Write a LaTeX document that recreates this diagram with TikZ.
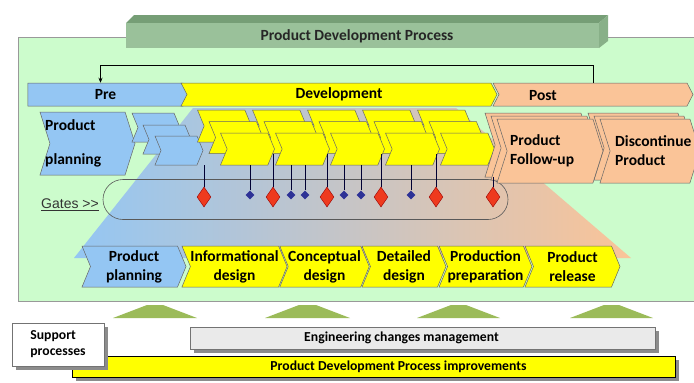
\documentclass[tikz,border=0pt]{standalone}
\usepackage{fontspec}
\setmainfont{Carlito}
\newfontfamily\gatesfont{Liberation Sans}
\usetikzlibrary{shapes.symbols,shapes.geometric,shadows,arrows.meta}

\definecolor{pdpblue}{RGB}{148,198,243}
\definecolor{pdpmid}{RGB}{200,194,212}
\definecolor{pdppeach}{RGB}{250,196,152}
\definecolor{pdpyellow}{RGB}{255,255,0}
\definecolor{pdpbg}{RGB}{204,252,204}
\definecolor{bannerfront}{RGB}{154,193,154}
\definecolor{bannertop}{RGB}{118,158,118}
\definecolor{bannerside}{RGB}{136,176,136}
\definecolor{gatered}{RGB}{238,58,30}
\definecolor{gateblue}{RGB}{45,50,150}
\definecolor{hillgreen}{RGB}{155,187,89}
\definecolor{ecmgray}{RGB}{234,234,234}

\begin{document}
\begin{tikzpicture}[x=1pt, y=-1pt,
  chev/.style={signal, signal from=west, signal to=east, signal pointer angle=135,
    draw=black!60, line width=0.5pt, inner sep=0pt,
    font=\bfseries\fontsize{15.5}{19}\selectfont, align=center},
  chevsize/.style 2 args={minimum width=#1, minimum height=#2},
  bluechev/.style={chev, fill=pdpblue},
  yellowchev/.style={chev, fill=pdpyellow},
  peachchev/.style={chev, fill=pdppeach},
  lbl/.style={font=\bfseries\fontsize{15.5}{19}\selectfont, inner sep=0pt, align=left},
  barlbl/.style={font=\bfseries\fontsize{13.7}{16}\selectfont, inner sep=0pt},
  reddia/.style={diamond, fill=gatered, draw=red!60!black, line width=0.4pt, inner sep=0pt, minimum width=14, minimum height=20},
  bluedia/.style={diamond, fill=gateblue, inner sep=0pt, minimum width=9, minimum height=9},
  gateline/.style={draw=black!80!blue, line width=0.6pt},
  hill/.style={fill=hillgreen},
  box/.style={draw=black!55, line width=0.6pt, inner sep=0pt,
    drop shadow={shadow xshift=4pt, shadow yshift=-4pt, fill=black!45, opacity=1}}
]
% Page size
\useasboundingbox (0,0) rectangle (694,383);

% Background and title banner
\draw[draw=black!40, fill=pdpbg] (18,37) rectangle (710,301);
\fill[bannertop] (126,23) -- (134,15) -- (608,15) -- (599,23) -- cycle;
\fill[bannerside] (599,23) -- (608,15) -- (608,41) -- (599,48) -- cycle;
\fill[bannerfront] (126,23) rectangle (599,48);
\node[font=\bfseries\fontsize{15.5}{19}\selectfont, text=black!85] (title) at (357,36) {Product Development Process};

% Gradient behind the activities
\shade[left color=pdpblue, middle color=pdpmid, right color=pdppeach] (193,108) -- (456,108) -- (631,258) -- (74,258) -- cycle;

% Gates lane
\node[draw=black!65, line width=0.6pt, rounded corners=20, minimum width=405, minimum height=40] (gates) at (305.5,199.5) {};
\node[font=\gatesfont\fontsize{14}{16}\selectfont, text=black!80, inner sep=0pt] (gateslbl) at (70,205) {\underline{Gates >{}>}};

% Phases
\node[chev, signal from=nowhere, fill=pdpblue, chevsize={161}{23}, signal pointer angle=125] (pre) at (105.5,94.5) {Pre};
\node[yellowchev, chevsize={316}{23}, signal pointer angle=125] (dev) at (339,94.5) {Development};
\node[peachchev, chevsize={200}{23}, signal pointer angle=125] (post) at (593,94.5) {};
\node[lbl] (postlbl) at (543,95.5) {Post};
\draw[-{Stealth[length=5pt,width=4pt]}, line width=0.6pt] (post.north) -- ++(0,-17) -| ([xshift=-5pt]pre.north);

% Pre phase activities
\node[bluechev, chevsize={95}{63}, signal pointer angle=145] (pplan) at (87.5,143.5) {};
\node[lbl, anchor=west] (pplanlbl) at (45,143.5) {Product\\[15pt]planning};
\node[bluechev, chevsize={48}{29}] (bb) at (156,127.5) {};
\node[bluechev, chevsize={48}{29}] (bm) at (167,139.5) {};
\node[bluechev, chevsize={48}{29}] (bf) at (179,150.5) {};

% Development activities, back row
\node[yellowchev, chevsize={54}{32}] (yb1) at (224.5,126) {};
\node[yellowchev, chevsize={54}{32}] (yb2) at (279.5,126) {};
\node[yellowchev, chevsize={54}{32}] (yb3) at (334.5,126) {};
\node[yellowchev, chevsize={54}{32}] (yb4) at (389.5,126) {};
\node[yellowchev, chevsize={54}{32}] (yb5) at (444.5,126) {};
% middle row
\node[yellowchev, chevsize={54}{32}] (ym1) at (236,137.5) {};
\node[yellowchev, chevsize={54}{32}] (ym2) at (291,137.5) {};
\node[yellowchev, chevsize={54}{32}] (ym3) at (346,137.5) {};
\node[yellowchev, chevsize={54}{32}] (ym4) at (401,137.5) {};
\node[yellowchev, chevsize={54}{32}] (ym5) at (456,137.5) {};
% front row
\node[yellowchev, chevsize={54}{32}] (yf1) at (247.5,149) {};
\node[yellowchev, chevsize={54}{32}] (yf2) at (302.5,149) {};
\node[yellowchev, chevsize={54}{32}] (yf3) at (357.5,149) {};
\node[yellowchev, chevsize={54}{32}] (yf4) at (412.5,149) {};
\node[yellowchev, chevsize={54}{32}] (yf5) at (467.5,149) {};

% Post phase activities
\node[peachchev, chevsize={106}{64}, signal pointer angle=145] (pb2) at (538,145) {};
\node[peachchev, chevsize={106}{64}, signal pointer angle=145] (pb1) at (544,148) {};
\node[peachchev, chevsize={100}{64}, signal pointer angle=145] (db2) at (638,145) {};
\node[peachchev, chevsize={100}{64}, signal pointer angle=145] (db1) at (644,148) {};
\node[peachchev, chevsize={106}{64}, signal pointer angle=145] (pf) at (550,151) {};
\node[lbl, anchor=west] (pflbl) at (510,151) {Product\\Follow-up};
\node[peachchev, chevsize={100}{64}, signal pointer angle=145] (df) at (650,151) {};
\node[lbl, anchor=west] (dflbl) at (615,151) {Discontinue\\Product};

% Gates
\node[reddia] (r1) at (204,197) {};
\node[bluedia] (b1) at (250,195) {};
\node[reddia] (r2) at (273,197) {};
\node[bluedia] (b2) at (291,195) {};
\node[bluedia] (b3) at (305,195) {};
\node[reddia] (r3) at (327,197) {};
\node[bluedia] (b4) at (344,195) {};
\node[bluedia] (b5) at (361,195) {};
\node[reddia] (r4) at (381,197) {};
\node[bluedia] (b6) at (411,195) {};
\node[reddia] (r5) at (436,197) {};
\node[reddia] (r6) at (493,197) {};
\draw[gateline] (r1.north) -- (r1.north |- bf.south);
\draw[gateline] (b1.north) -- (b1.north |- yf1.south);
\draw[gateline] (r2.north) -- (r2.north |- ym2.south);
\draw[gateline] (b2.north) -- (b2.north |- yf2.south);
\draw[gateline] (b3.north) -- (b3.north |- yf2.south);
\draw[gateline] (r3.north) -- (r3.north |- ym3.south);
\draw[gateline] (b4.north) -- (b4.north |- yf3.south);
\draw[gateline] (b5.north) -- (b5.north |- yf3.south);
\draw[gateline] (r4.north) -- (r4.north |- ym4.south);
\draw[gateline] (b6.north) -- (b6.north |- yf4.south);
\draw[gateline] (r5.north) -- (r5.north |- ym5.south);
\draw[gateline] (r6.north) -- (r6.north |- pb2.south);

% Stages
\node[bluechev, chevsize={104}{41}] (s1) at (134,266.5) {Product\\planning};
\node[yellowchev, chevsize={105}{41}] (s2) at (234.5,266.5) {Informational\\design};
\node[yellowchev, chevsize={83}{41}] (s3) at (324.5,266.5) {Conceptual\\design};
\node[yellowchev, chevsize={84}{41}] (s4) at (404,266.5) {Detailed\\design};
\node[yellowchev, chevsize={87}{41}] (s5) at (485.5,266.5) {Production\\preparation};
\node[yellowchev, chevsize={95}{41}] (s6) at (572.5,266.5) {Product\\release};

% Support
\fill[hill] (113,318) -- (147,305) -- (163,305) -- (197,318) -- cycle;
\fill[hill] (265,318) -- (299,305) -- (316,305) -- (350,318) -- cycle;
\fill[hill] (417,318) -- (451,305) -- (466,305) -- (500,318) -- cycle;
\fill[hill] (570,318) -- (604,305) -- (619,305) -- (653,318) -- cycle;
\node[box, fill=ecmgray, minimum width=465, minimum height=22] (ecm) at (422.5,338) {};
\node[barlbl] (ecmlbl) at (401.5,338) {Engineering changes management};
\node[box, draw=black, fill=pdpyellow, minimum width=603, minimum height=21] (imp) at (373.5,366.5) {};
\node[barlbl] (implbl) at (398.5,366.5) {Product Development Process improvements};
\node[box, fill=white, minimum width=92, minimum height=43] (sup) at (58,344.5) {};
\node[barlbl, align=left] (suplbl) at (58,344.5) {Support\\processes};
\end{tikzpicture}
\end{document}
